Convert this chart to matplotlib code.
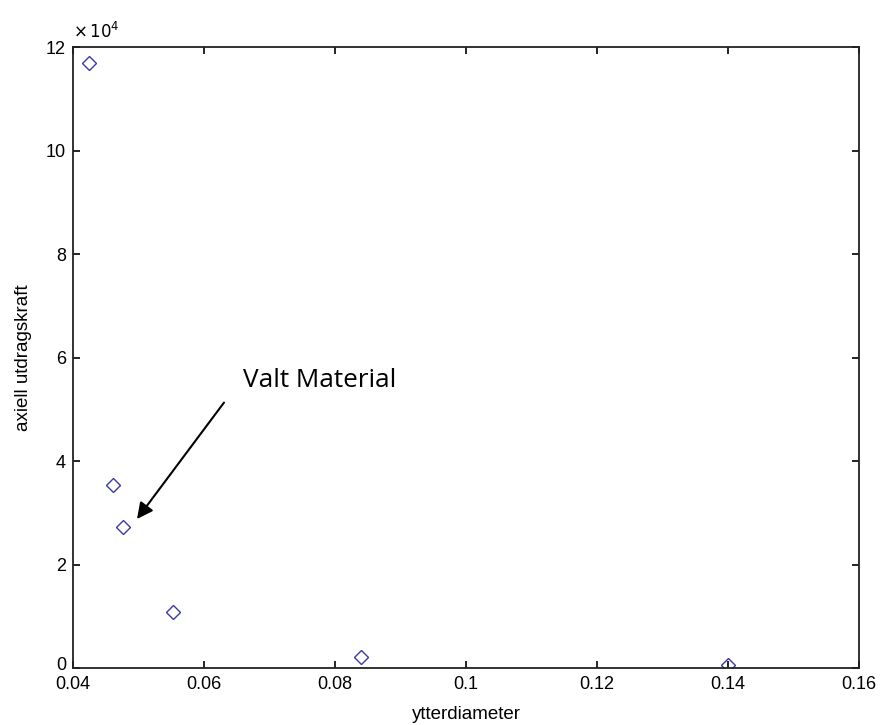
import matplotlib
matplotlib.use("Agg")
import matplotlib.pyplot as plt
import matplotlib.transforms as mtransforms
from matplotlib.ticker import FuncFormatter

x_vals = [0.0425, 0.0461, 0.0477, 0.0553, 0.0840, 0.1400]
y_vals = [117000, 35300, 27200, 10900, 2100, 600]
x_ticks = [0.04, 0.06, 0.08, 0.1, 0.12, 0.14, 0.16]
x_tick_labels = ["0.04", "0.06", "0.08", "0.1", "0.12", "0.14", "0.16"]
y_ticks = [0, 20000, 40000, 60000, 80000, 100000, 120000]
y_scale = 1e4

plt.rcParams['font.family'] = ['Liberation Sans', 'DejaVu Sans']
fig = plt.figure(figsize=(8.8, 7.25), dpi=100)
ax = fig.add_axes([0.083, 0.0786, 0.893, 0.8564])
ax.plot(x_vals, y_vals, linestyle='none', marker='D', markersize=7,
        markerfacecolor='none', markeredgecolor='#3a3aa8', markeredgewidth=1.0)
ax.set_xlim(0.04, 0.16)
ax.set_ylim(0, 120000)
ax.set_xticks(x_ticks)
ax.set_xticklabels(x_tick_labels)
ax.set_yticks(y_ticks)
ax.yaxis.set_major_formatter(FuncFormatter(lambda v, p: f"{v / y_scale:g}"))
ax.tick_params(direction='in', top=True, right=True, length=5, width=1.2,
               labelsize=13)
ax.tick_params(axis='x', pad=6)
ax.tick_params(axis='y', pad=5)
# lift the bottom "0" label slightly so it clears "0.04" (as in the reference)
offset = mtransforms.ScaledTranslation(0, 3.5 / 72, fig.dpi_scale_trans)
first = ax.yaxis.get_major_ticks()[0].label1
first.set_transform(first.get_transform() + offset)
for s in ax.spines.values():
    s.set_linewidth(1.3)
    s.set_color('#222222')
ax.text(0.0, 1.010, r'$\times\,10^{4}$', transform=ax.transAxes,
        fontsize=12, ha='left', va='bottom')
ax.set_xlabel('ytterdiameter', fontsize=13.5, labelpad=9)
ax.set_ylabel('axiell utdragskraft', fontsize=13.5, labelpad=10)

ax.annotate('', xy=(0.04977, 28800), xytext=(0.06305, 51300),
            arrowprops=dict(arrowstyle='-|>', color='black', lw=1.5,
                            mutation_scale=24, shrinkA=0, shrinkB=0))
ax.text(0.06595, 55600, 'Valt Material', fontsize=18.8, family='Open Sans',
        ha='left', va='center')
fig.savefig('out.png', dpi=100)
